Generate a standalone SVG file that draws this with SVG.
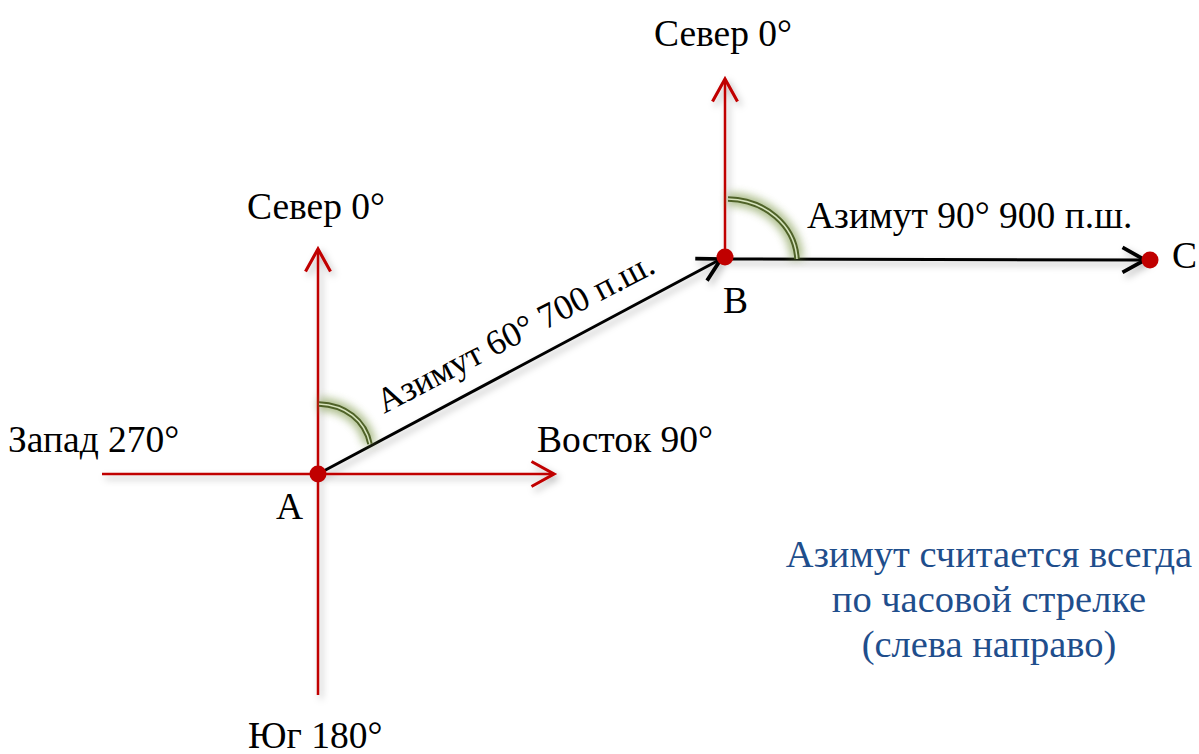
<svg xmlns="http://www.w3.org/2000/svg" width="1199" height="754" viewBox="0 0 1199 754">
<style>
.t{font-family:"Liberation Serif","Times New Roman",serif;font-size:37.5px;fill:#000}
.b{font-family:"Liberation Serif","Times New Roman",serif;font-size:38.5px;fill:#1f4e8c;text-anchor:middle}
.red{stroke:#c00000;stroke-width:2.5;fill:none}
.blk{stroke:#000;stroke-width:3;fill:none}
.glow{stroke:#76923c;stroke-width:13;fill:none;opacity:0.6}
.arc{stroke:#4f6228;stroke-width:5.5;fill:none}
.arcin{stroke:#d7e4bd;stroke-width:1.5;fill:none}
</style>
<defs>
<filter id="sh" x="-20%" y="-20%" width="140%" height="140%">
<feDropShadow dx="3" dy="4" stdDeviation="3.5" flood-color="#000" flood-opacity="0.28"/>
</filter>
<filter id="bl" x="-50%" y="-50%" width="200%" height="200%">
<feGaussianBlur stdDeviation="4"/>
</filter>
<marker id="ar" markerUnits="userSpaceOnUse" markerWidth="30" markerHeight="30" refX="20" refY="12" orient="auto" viewBox="0 0 24 24">
<path d="M2,2 L20,12 L2,22" fill="none" stroke="#c00000" stroke-width="2.5"/>
</marker>
<marker id="ak" markerUnits="userSpaceOnUse" markerWidth="30" markerHeight="30" refX="20" refY="12" orient="auto" viewBox="0 0 24 24">
<path d="M2,2 L20,12 L2,22" fill="none" stroke="#000" stroke-width="3"/>
</marker>
</defs>
<g id="connectors" filter="url(#sh)">
<line class="red" x1="318" y1="695" x2="318" y2="249" marker-end="url(#ar)"/>
<line class="red" x1="102" y1="474" x2="554" y2="474" marker-end="url(#ar)"/>
<line class="red" x1="725" y1="257" x2="725" y2="79" marker-end="url(#ar)"/>
<line class="blk" x1="318" y1="474" x2="721" y2="259" marker-end="url(#ak)"/>
<line class="blk" x1="725" y1="259" x2="1145" y2="260" marker-end="url(#ak)"/>
</g>
<g id="arcA">
<path class="glow" filter="url(#bl)" d="M319,404 C345,405 365,420 370,444"/>
<path class="arc" d="M319,404 C345,405 365,420 370,444"/>
<path class="arcin" d="M319,404 C345,405 365,420 370,444"/>
</g>
<g id="arcB">
<path class="glow" filter="url(#bl)" d="M728,199 C765,200 795,225 797,259"/>
<path class="arc" d="M728,199 C765,200 795,225 797,259"/>
<path class="arcin" d="M728,199 C765,200 795,225 797,259"/>
</g>
<g id="pointA">
<circle cx="318" cy="474" r="8.5" fill="#c00000"/>
<text class="t" x="276" y="519">А</text>
</g>
<g id="pointB">
<circle cx="725" cy="257" r="8.5" fill="#c00000"/>
<text class="t" x="723" y="313">В</text>
</g>
<g id="pointC">
<circle cx="1150" cy="260" r="8.5" fill="#c00000"/>
<text class="t" x="1172" y="268">С</text>
</g>
<g id="labels">
<text class="t" x="654" y="46">Север 0°</text>
<text class="t" x="247" y="219">Север 0°</text>
<text class="t" x="8" y="452">Запад 270°</text>
<text class="t" x="537" y="452">Восток 90°</text>
<text class="t" x="248" y="748">Юг 180°</text>
<text class="t" x="807" y="228">Азимут 90° 900 п.ш.</text>
<text class="t" style="font-size:35.5px" transform="translate(384,414) rotate(-27.5)">Азимут 60° 700 п.ш.</text>
</g>
<g id="note">
<text class="b" x="989" y="567">Азимут считается всегда</text>
<text class="b" x="989" y="612">по часовой стрелке</text>
<text class="b" x="989" y="657">(слева направо)</text>
</g>
</svg>
